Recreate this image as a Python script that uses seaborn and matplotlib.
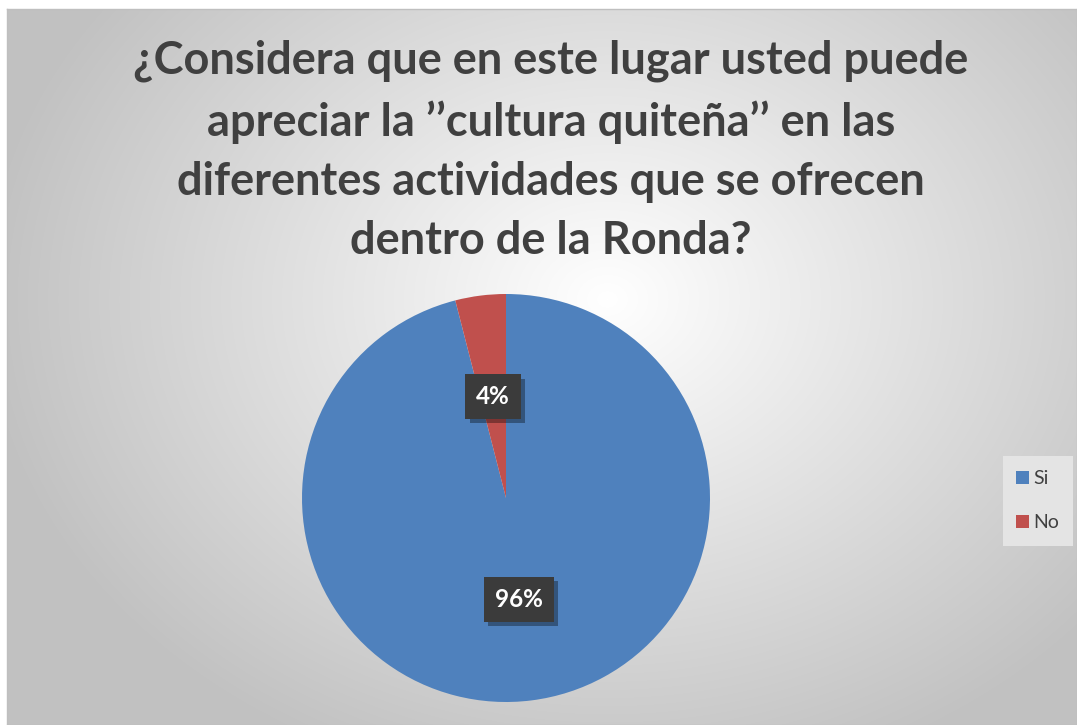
import numpy as np
import matplotlib
matplotlib.use("Agg")
import matplotlib.pyplot as plt
import matplotlib.patheffects as pe
import seaborn as sns
from matplotlib.patches import Rectangle

categories = ["Si", "No"]
values = [96, 4]
labels_pct = ["96%", "4%"]
colors = ["#4F81BD", "#C0504D"]
title = "¿Considera que en este lugar usted puede\napreciar la ’’cultura quiteña’’ en las\ndiferentes actividades que se ofrecen\ndentro de la Ronda?"

sns.set_theme(style="white")
plt.rcParams['font.family'] = ['Lato', 'DejaVu Sans']
plt.rcParams['hatch.color'] = '#585858'
plt.rcParams['hatch.linewidth'] = 2.0

W, H = 1077, 725
fig = plt.figure(figsize=(W/100, H/100), dpi=100)
fig.patch.set_facecolor("white")

# background with radial gradient
bx0, by0 = 7, 0
bw, bh = W - 7, H - 9
bg = fig.add_axes([bx0/W, by0/H, bw/W, bh/H])
yy, xx = np.mgrid[0:bh, 0:bw]
cx, cy = 600, 290
d = np.sqrt(((xx-cx)/700.0)**2 + ((yy-cy)/560.0)**2)
g = np.clip(1.0 - 0.27*d, 0.76, 1.0)
img = np.dstack([g, g, g])
bg.imshow(img, aspect='auto', extent=[0, bw, bh, 0])
bg.set_xlim(0, bw); bg.set_ylim(bh, 0)
bg.set_xticks([]); bg.set_yticks([])
for s in bg.spines.values():
    s.set_color("#bfbfbf"); s.set_linewidth(1)

# title
fig.text(551/W, 1 - 40/H, title, ha='center', va='top', fontsize=32.5,
         fontweight='bold', color='#404040', linespacing=1.5)

# pie
cxp, cyp, r = 506, 498, 204
ax = fig.add_axes([(cxp-r)/W, (H-cyp-r)/H, 2*r/W, 2*r/H])
wedges, _ = ax.pie(values, colors=colors, startangle=90, counterclock=False,
                   wedgeprops=dict(linewidth=0))
ax.set_xlim(-1, 1); ax.set_ylim(-1, 1)
ax.set_aspect('equal')
ax.axis('off')

cum = 0
for v, lab in zip(values, labels_pct):
    mid = 90 - (cum + v/2) / sum(values) * 360
    cum += v
    dist = 0.5
    x = dist*np.cos(np.radians(mid)); y = dist*np.sin(np.radians(mid))
    t = ax.text(x, y, lab, ha='center', va='center', fontsize=17.5, fontweight='bold',
                color='white',
                bbox=dict(boxstyle='square,pad=0.45', facecolor='#3b3b3b',
                          edgecolor='none', hatch='.'))
    t.get_bbox_patch().set_path_effects([
        pe.SimplePatchShadow(offset=(3, -3), shadow_rgbFace='black', alpha=0.35),
        pe.Normal()])

# legend
lx0, ly0, lx1, ly1 = 1003, 456, 1073, 546
fig.patches.append(Rectangle((lx0/W, 1 - ly1/H), (lx1-lx0)/W, (ly1-ly0)/H,
                             transform=fig.transFigure, facecolor='#e4e4e4',
                             edgecolor='none', zorder=1))
for i, cat in enumerate(categories):
    yc = 478 + i*44
    fig.patches.append(Rectangle((1016/W, 1 - (yc+6)/H), 13/W, 13/H,
                                 transform=fig.transFigure, facecolor=colors[i],
                                 edgecolor='none', zorder=2))
    fig.text(1033/W, 1 - yc/H, cat, ha='left', va='center', fontsize=14,
             color='#404040', zorder=3)

fig.savefig("out.png", dpi=100)
